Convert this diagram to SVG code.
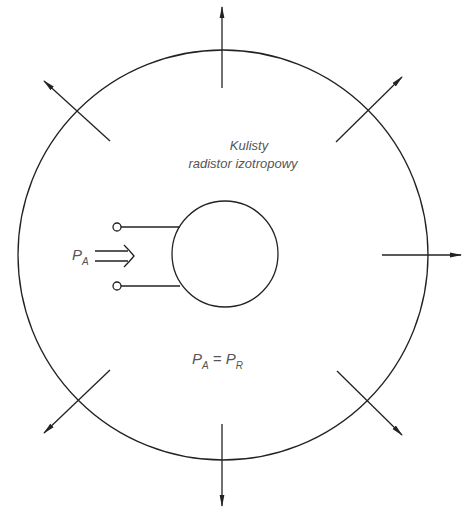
<svg xmlns="http://www.w3.org/2000/svg" width="462" height="509" viewBox="0 0 462 509">
<defs>
<style>
.ln{stroke:#222;stroke-width:1.3;fill:none}
.ar{stroke:#222;stroke-width:1.3;fill:none;marker-end:url(#ah)}
.tx{font-family:"Liberation Sans",Arial,sans-serif;font-style:italic;fill:#555}
</style>
<marker id="ah" viewBox="0 0 12 6" refX="11" refY="3" markerWidth="12" markerHeight="6" markerUnits="userSpaceOnUse" orient="auto">
<path d="M0,0.6 L12,3 L0,5.4 Z" fill="#222"/>
</marker>
</defs>
<rect width="462" height="509" fill="#fff"/>
<g id="sphere"><circle cx="223" cy="255" r="205" class="ln"/></g>
<g id="radiator"><circle cx="225" cy="254" r="53" class="ln"/></g>
<g id="input">
<circle cx="117" cy="227" r="4" class="ln"/>
<circle cx="117" cy="286" r="4" class="ln"/>
<line x1="121" y1="227" x2="180" y2="227" class="ln"/>
<line x1="121" y1="286" x2="180" y2="286" class="ln"/>
<path d="M95,251 H128 M95,261 H128 M124,245 Q130,251 134,256 Q130,261 124,267" class="ln"/>
<text class="tx" x="72" y="260" font-size="15">P<tspan font-size="10" dy="5">A</tspan></text>
</g>
<g id="label">
<text class="tx" x="249" y="150" font-size="13" text-anchor="middle">Kulisty</text>
<text class="tx" x="243" y="168" font-size="13" text-anchor="middle">radistor izotropowy</text>
</g>
<g id="eq">
<text class="tx" x="192" y="364" font-size="15">P<tspan font-size="10" dy="5">A</tspan><tspan dy="-5"> = P</tspan><tspan font-size="10" dy="5">R</tspan></text>
</g>
<g id="connectors">
<line x1="222" y1="88" x2="222" y2="7" class="ar"/>
<line x1="222" y1="424" x2="222" y2="506" class="ar"/>
<line x1="382" y1="255" x2="461" y2="255" class="ar"/>
<line x1="110" y1="141" x2="44" y2="81" class="ar"/>
<line x1="336" y1="142" x2="402" y2="77" class="ar"/>
<line x1="110" y1="370" x2="44" y2="433" class="ar"/>
<line x1="337" y1="371" x2="402" y2="435" class="ar"/>
</g>
</svg>
